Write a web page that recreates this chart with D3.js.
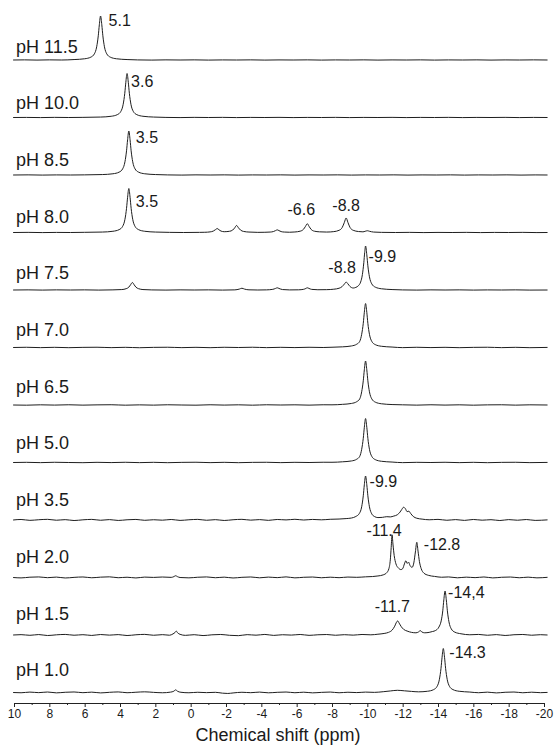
<!DOCTYPE html>
<html>
<head>
<meta charset="utf-8">
<script src="https://cdn.jsdelivr.net/npm/d3@7"></script>
<style>
  html, body { margin: 0; padding: 0; background: #fff; }
  svg { display: block; }
  text { font-family: "Liberation Sans", Arial, Helvetica, sans-serif; fill: #1a1a1a; }
</style>
</head>
<body>
<svg id="chart" width="554" height="747"></svg>
<script>
// ---------------- DATA ----------------
const phLabels = ["pH 11.5","pH 10.0","pH 8.5","pH 8.0","pH 7.5","pH 7.0","pH 6.5","pH 5.0","pH 3.5","pH 2.0","pH 1.5","pH 1.0"];

const xTickValues = [10,8,6,4,2,0,-2,-4,-6,-8,-10,-12,-14,-16,-18,-20];
const xMinorTickValues = [9,7,5,3,1,-1,-3,-5,-7,-9,-11,-13,-15,-17,-19];
const xTitle = "Chemical shift (ppm)";

// spectra: [ppm, relative intensity]
const spec_pH11_5 = [[10.05,0],[9.4,0.3],[8.7,-0.2],[8,0.3],[7.3,0],[6.6,1],[6.0,2.8],[5.65,6.5],[5.45,14],[5.32,30],[5.23,55],[5.17,80],[5.1,100],[5.03,80],[4.97,55],[4.88,30],[4.75,14],[4.55,6.5],[4.2,2.8],[3.6,1],[3,0.2],[2.2,-0.2],[1.4,0.3],[0.6,0],[-0.2,0.3],[-1,-0.2],[-1.8,0.2],[-2.6,0],[-3.4,0.3],[-4.2,-0.2],[-5,0.2],[-5.8,0],[-6.6,0.3],[-7.4,-0.2],[-8.2,0.2],[-9,0],[-9.8,0.3],[-10.6,-0.2],[-11.4,0.2],[-12.2,0],[-13,0.3],[-13.8,-0.2],[-14.6,0.2],[-15.4,0],[-16.2,0.3],[-17,-0.2],[-17.8,0.2],[-18.6,0],[-19.4,0.3],[-20.2,0]];
const spec_pH10_0 = [[10.05,0],[9.3,0.2],[8.5,-0.2],[7.7,0.3],[6.9,0],[6.1,0.3],[5.1,1],[4.5,2.8],[4.15,6.5],[3.95,14],[3.82,30],[3.73,55],[3.67,80],[3.6,100],[3.53,80],[3.47,55],[3.38,30],[3.25,14],[3.05,6.5],[2.7,2.8],[2.1,1],[1.4,0.2],[0.6,-0.2],[-0.2,0.3],[-1,0],[-1.8,0.3],[-2.6,-0.2],[-3.4,0.2],[-4.2,0],[-5,0.3],[-5.8,-0.2],[-6.6,0.2],[-7.4,0],[-8.2,0.3],[-9,-0.2],[-9.8,0.2],[-10.6,0],[-11.4,0.3],[-12.2,-0.2],[-13,0.2],[-13.8,0],[-14.6,0.3],[-15.4,-0.2],[-16.2,0.2],[-17,0],[-17.8,0.3],[-18.6,-0.2],[-19.4,0.2],[-20.2,0]];
const spec_pH8_5 = [[10.05,0],[9.2,0.3],[8.4,-0.2],[7.6,0.2],[6.8,0],[6,0.3],[5,1],[4.4,2.8],[4.05,6.5],[3.85,14],[3.72,30],[3.63,55],[3.57,80],[3.5,100],[3.43,80],[3.37,55],[3.28,30],[3.15,14],[2.95,6.5],[2.6,2.8],[2,1],[1.3,0.2],[0.5,-0.2],[-0.3,0.3],[-1.1,0],[-1.9,0.3],[-2.7,-0.2],[-3.5,0.2],[-4.3,0],[-5.1,0.3],[-5.9,-0.2],[-6.7,0.2],[-7.5,0],[-8.3,0.3],[-9.1,-0.2],[-9.9,0.2],[-10.7,0],[-11.5,0.3],[-12.3,-0.2],[-13.1,0.2],[-13.9,0],[-14.7,0.3],[-15.5,-0.2],[-16.3,0.2],[-17.1,0],[-17.9,0.3],[-18.7,-0.2],[-19.5,0.2],[-20.2,0]];
const spec_pH8_0 = [[10.05,0],[9.2,0.3],[8.4,-0.2],[7.6,0.2],[6.8,0],[6,0.4],[5,1],[4.4,2.8],[4.05,6.5],[3.85,14],[3.72,30],[3.63,55],[3.57,80],[3.5,100],[3.43,80],[3.37,55],[3.28,30],[3.15,14],[2.95,6.5],[2.6,2.8],[2,1],[1.2,0.3],[0.4,0],[-0.5,0.3],[-0.8,0.5],[-1.1,1.4],[-1.28,3.2],[-1.4,6.3],[-1.5,9],[-1.6,6.3],[-1.72,3.2],[-1.9,1.8],[-2.2,2.8],[-2.38,5.6],[-2.5,11],[-2.6,16],[-2.7,11],[-2.82,5.6],[-3.0,2.4],[-3.3,1],[-3.8,0.3],[-4.2,0.5],[-4.5,1],[-4.68,2.1],[-4.8,4.2],[-4.9,6],[-5.0,4.2],[-5.12,2.1],[-5.3,1],[-5.6,0.6],[-5.9,1.2],[-6.2,3],[-6.38,7],[-6.5,14],[-6.6,20],[-6.7,14],[-6.82,7],[-7.0,3],[-7.3,1.5],[-7.7,1],[-8.1,2],[-8.4,5],[-8.58,11.5],[-8.7,23],[-8.8,33],[-8.9,23],[-9.02,11.5],[-9.2,5],[-9.5,2.2],[-9.75,1.5],[-9.88,2.8],[-10.0,4],[-10.12,2.8],[-10.35,1],[-10.8,0.3],[-11.6,0],[-12.4,0.3],[-13.2,-0.2],[-14,0.2],[-14.8,0],[-15.6,0.3],[-16.4,-0.2],[-17.2,0.2],[-18,0],[-18.8,0.3],[-19.6,-0.2],[-20.2,0]];
const spec_pH7_5 = [[10.05,0],[9.2,0.3],[8.4,-0.2],[7.6,0.3],[6.8,0],[6,0.3],[5.2,-0.2],[4.4,0.3],[3.9,1],[3.65,3],[3.5,6.5],[3.4,12],[3.3,17],[3.2,12],[3.1,6.5],[2.95,3],[2.7,1],[2.2,0.2],[1.4,-0.2],[0.6,0.3],[-0.2,0],[-1,0.3],[-1.8,-0.2],[-2.5,0.3],[-2.75,2],[-2.9,4],[-3.05,2],[-3.3,0.4],[-3.8,0],[-4.3,0.3],[-4.65,1.5],[-4.8,3.5],[-4.9,5],[-5.0,3.5],[-5.2,1],[-5.6,0.2],[-6.1,0.4],[-6.4,1.6],[-6.52,3.5],[-6.6,5],[-6.7,3.5],[-6.85,1.4],[-7.2,0.6],[-7.7,0.8],[-8.1,1.8],[-8.4,4],[-8.58,8],[-8.7,13.5],[-8.8,18],[-8.9,14],[-9.02,8],[-9.2,4.5],[-9.35,6],[-9.5,10],[-9.62,18],[-9.72,35],[-9.8,62],[-9.85,85],[-9.9,100],[-9.97,80],[-10.03,55],[-10.12,30],[-10.25,14],[-10.45,6.5],[-10.8,2.8],[-11.4,1],[-12,0.2],[-12.8,-0.2],[-13.6,0.3],[-14.4,0],[-15.2,0.3],[-16,-0.2],[-16.8,0.2],[-17.6,0],[-18.4,0.3],[-19.2,-0.2],[-20.2,0]];
const spec_pH7_0 = [[10.05,0],[9.3,0.5],[8.5,-0.3],[7.7,0.4],[6.9,-0.4],[6.1,0.3],[5.3,0.6],[4.5,-0.3],[3.7,0.4],[2.9,-0.5],[2.1,0.3],[1.3,0.6],[0.5,-0.3],[-0.3,0.4],[-1.1,-0.4],[-1.9,0.5],[-2.7,0],[-3.5,0.6],[-4.3,-0.3],[-5.1,0.4],[-5.9,-0.2],[-6.7,0.5],[-7.5,0],[-8.0,0.6],[-8.6,1.5],[-9.1,3.5],[-9.4,7.5],[-9.57,14],[-9.68,30],[-9.77,55],[-9.83,80],[-9.9,100],[-9.97,80],[-10.03,55],[-10.12,30],[-10.25,14],[-10.45,6.5],[-10.8,2.8],[-11.4,1],[-12,-0.3],[-12.8,0.5],[-13.6,-0.2],[-14.4,0.4],[-15.2,-0.4],[-16,0.3],[-16.8,0.6],[-17.6,-0.3],[-18.4,0.4],[-19.2,-0.4],[-20.2,0.2]];
const spec_pH6_5 = [[10.05,0],[9.3,-0.4],[8.5,0.4],[7.7,-0.2],[6.9,0.5],[6.1,-0.3],[5.3,0.3],[4.5,0.6],[3.7,-0.4],[2.9,0.3],[2.1,-0.3],[1.3,0.5],[0.5,0],[-0.3,-0.4],[-1.1,0.5],[-1.9,-0.2],[-2.7,0.4],[-3.5,-0.4],[-4.3,0.5],[-5.1,0],[-5.9,0.4],[-6.7,-0.3],[-7.5,0.5],[-8.0,0.4],[-8.6,1.5],[-9.1,3.5],[-9.4,7.5],[-9.57,14],[-9.68,30],[-9.77,55],[-9.83,80],[-9.9,100],[-9.97,80],[-10.03,55],[-10.12,30],[-10.25,14],[-10.45,6.5],[-10.8,2.8],[-11.4,1],[-12,0.4],[-12.8,-0.3],[-13.6,0.5],[-14.4,-0.2],[-15.2,0.4],[-16,-0.4],[-16.8,0.3],[-17.6,0.5],[-18.4,-0.3],[-19.2,0.4],[-20.2,0]];
const spec_pH5_0 = [[10.05,0],[9.3,0.4],[8.5,-0.3],[7.7,0.5],[6.9,0],[6.1,-0.4],[5.3,0.4],[4.5,-0.2],[3.7,0.5],[2.9,-0.3],[2.1,0.4],[1.3,-0.4],[0.5,0.3],[-0.3,0.6],[-1.1,-0.3],[-1.9,0.4],[-2.7,-0.4],[-3.5,0.3],[-4.3,0.5],[-5.1,-0.3],[-5.9,0.4],[-6.7,0],[-7.5,0.6],[-8.0,0.5],[-8.6,1.6],[-9.1,3.5],[-9.4,7.5],[-9.57,14],[-9.68,30],[-9.77,55],[-9.83,80],[-9.9,100],[-9.97,80],[-10.03,55],[-10.12,30],[-10.25,14],[-10.45,6.5],[-10.8,2.8],[-11.4,1],[-12,-0.3],[-12.8,0.4],[-13.6,0],[-14.4,0.5],[-15.2,-0.3],[-16,0.4],[-16.8,-0.4],[-17.6,0.3],[-18.4,0.5],[-19.2,-0.3],[-20.2,0.2]];
const spec_pH3_5 = [[10.05,0],[9.6,1.2],[9.1,-0.8],[8.6,0.6],[8.1,1.5],[7.6,-0.5],[7.1,0.8],[6.6,-1.2],[6.1,0.4],[5.6,1.4],[5.1,-0.6],[4.6,0.9],[4.1,-1],[3.6,0.5],[3.1,1.3],[2.6,-0.7],[2.1,0.6],[1.6,-0.4],[1.1,1.2],[0.6,-0.9],[0.1,0.5],[-0.4,1.4],[-0.9,-0.6],[-1.4,0.8],[-1.9,-1.1],[-2.4,0.6],[-2.9,1.5],[-3.4,-0.3],[-3.9,0.9],[-4.4,-0.8],[-4.9,1.2],[-5.4,0.2],[-5.9,1.6],[-6.4,0],[-6.9,1.3],[-7.4,0.4],[-7.9,1.6],[-8.4,2.2],[-8.8,3.2],[-9.1,4.5],[-9.35,8],[-9.55,15],[-9.68,30],[-9.77,55],[-9.83,80],[-9.9,100],[-9.97,80],[-10.03,55],[-10.12,30],[-10.25,14],[-10.4,8],[-10.6,5.5],[-10.85,6],[-11.1,7.5],[-11.3,7],[-11.5,9],[-11.7,12],[-11.85,18],[-11.95,24],[-12.05,29],[-12.15,26],[-12.25,19],[-12.35,20],[-12.45,15],[-12.6,8],[-12.8,4],[-13.1,2],[-13.5,0.5],[-14,1.4],[-14.5,-0.6],[-15,0.9],[-15.5,-0.9],[-16,1.2],[-16.5,-0.4],[-17,0.7],[-17.5,-1.2],[-18,0.9],[-18.5,-0.5],[-19,1.1],[-19.5,-0.9],[-20.2,0.3]];
const spec_pH2_0 = [[10.05,0],[9.6,-0.9],[9.1,0.7],[8.6,1.3],[8.1,-0.4],[7.6,0.9],[7.1,-1.1],[6.6,0.3],[6.1,1.2],[5.6,-0.6],[5.1,0.8],[4.6,1.5],[4.1,-0.5],[3.6,0.6],[3.1,-1],[2.6,0.9],[2.1,0.2],[1.6,1.1],[1.1,0.3],[0.95,2],[0.85,4],[0.75,2],[0.6,0],[0.1,-0.8],[-0.4,0.6],[-0.9,1.3],[-1.4,-0.5],[-1.9,0.8],[-2.4,-1.1],[-2.9,0.4],[-3.4,1.2],[-3.9,-0.7],[-4.4,0.9],[-4.9,-0.3],[-5.4,1.4],[-5.9,-0.8],[-6.4,0.5],[-6.9,1.1],[-7.4,-0.6],[-7.9,0.7],[-8.4,-0.4],[-8.9,1],[-9.4,0.4],[-9.9,1.5],[-10.3,2.2],[-10.6,3.5],[-10.9,6],[-11.1,11],[-11.22,20],[-11.3,40],[-11.35,68],[-11.4,97],[-11.45,76],[-11.52,50],[-11.62,31],[-11.75,22],[-11.9,18],[-12.0,20],[-12.1,31],[-12.18,38],[-12.26,32],[-12.33,35],[-12.42,27],[-12.53,23],[-12.63,33],[-12.72,58],[-12.8,80],[-12.87,60],[-12.95,36],[-13.05,20],[-13.2,10],[-13.45,5],[-13.8,2.5],[-14.2,0.6],[-14.6,1.3],[-15.1,-0.7],[-15.6,0.8],[-16.1,-0.3],[-16.6,1.2],[-17.1,-0.9],[-17.6,0.5],[-18.1,1.1],[-18.6,-0.6],[-19.1,0.8],[-19.6,-0.8],[-20.2,0.4]];
const spec_pH1_5 = [[10.05,0],[9.6,0.8],[9.1,-0.7],[8.6,1],[8.1,-1.2],[7.6,0.4],[7.1,1.3],[6.6,-0.5],[6.1,0.7],[5.6,-1],[5.1,1.1],[4.6,-0.3],[4.1,0.9],[3.6,-1.2],[3.1,0.5],[2.6,1.4],[2.1,-0.6],[1.6,0.8],[1.2,-0.5],[1.0,2.5],[0.88,6],[0.82,9],[0.74,5],[0.6,1.5],[0.3,-0.8],[-0.2,0.7],[-0.7,-1.3],[-1.2,0.4],[-1.7,1.2],[-2.2,-0.7],[-2.7,-1.5],[-3.2,0.8],[-3.7,-0.4],[-4.2,1.3],[-4.7,-0.9],[-5.2,0.6],[-5.7,-0.2],[-6.2,1.2],[-6.7,-0.8],[-7.2,0.5],[-7.7,1.1],[-8.2,-0.6],[-8.7,0.7],[-9.2,-0.3],[-9.7,1.2],[-10.2,0.4],[-10.6,1.8],[-10.95,3.5],[-11.2,6],[-11.4,11],[-11.55,20],[-11.65,29],[-11.72,32],[-11.8,27],[-11.92,19],[-12.05,13],[-12.25,9],[-12.5,6],[-12.75,5],[-12.9,7],[-13.0,10],[-13.08,7],[-13.25,5],[-13.5,6],[-13.7,8],[-13.85,10],[-14.05,18],[-14.18,32],[-14.27,55],[-14.33,80],[-14.4,100],[-14.47,80],[-14.53,55],[-14.62,30],[-14.75,14],[-14.95,6.5],[-15.3,2.8],[-15.8,0.5],[-16.3,1.3],[-16.8,-0.6],[-17.3,0.9],[-17.8,-1.1],[-18.3,0.6],[-18.8,1.2],[-19.3,-0.5],[-19.8,0.7],[-20.2,0]];
const spec_pH1_0 = [[10.05,0],[9.6,-0.6],[9.1,0.9],[8.6,-0.3],[8.1,1.1],[7.6,-0.8],[7.1,0.5],[6.6,1.2],[6.1,-0.4],[5.6,0.8],[5.1,-0.9],[4.6,0.4],[4.1,1.3],[3.6,-0.5],[3.1,0.6],[2.6,1.5],[2.1,0.3],[1.6,-0.6],[1.15,0.8],[0.95,3],[0.85,6],[0.75,3],[0.55,0.5],[0.1,-0.6],[-0.4,0.5],[-0.9,-0.3],[-1.4,0.4],[-1.8,-1.5],[-2.1,-2.2],[-2.4,-1],[-2.9,0.5],[-3.4,-0.4],[-3.9,0.9],[-4.4,-0.7],[-4.9,0.4],[-5.4,1.1],[-5.9,-0.5],[-6.4,0.7],[-6.9,-0.8],[-7.4,0.3],[-7.9,1],[-8.4,-0.6],[-8.9,0.6],[-9.4,-0.2],[-9.9,0.9],[-10.4,0.3],[-10.9,1.8],[-11.3,3.5],[-11.7,5],[-12.1,3.8],[-12.5,2.5],[-12.9,1.5],[-13.4,2.8],[-13.75,6.5],[-13.95,14],[-14.08,30],[-14.17,55],[-14.23,80],[-14.3,100],[-14.37,80],[-14.43,55],[-14.52,30],[-14.65,14],[-14.85,6.5],[-15.2,2.8],[-15.8,1],[-16.3,-0.5],[-16.8,0.8],[-17.3,-0.9],[-17.8,0.5],[-18.3,1.1],[-18.8,-0.6],[-19.3,0.7],[-19.8,-0.4],[-20.2,0.2]];

const spectra = [spec_pH11_5, spec_pH10_0, spec_pH8_5, spec_pH8_0, spec_pH7_5, spec_pH7_0, spec_pH6_5, spec_pH5_0, spec_pH3_5, spec_pH2_0, spec_pH1_5, spec_pH1_0];

// peak annotations: [spectrum index, ppm, text]
const peakLabels = [
  [0, 5.1, "5.1"],
  [1, 3.6, "3.6"],
  [2, 3.5, "3.5"],
  [3, 3.5, "3.5"],
  [3, -6.6, "-6.6"],
  [3, -8.8, "-8.8"],
  [4, -8.8, "-8.8"],
  [4, -9.9, "-9.9"],
  [8, -9.9, "-9.9"],
  [9, -11.4, "-11.4"],
  [9, -12.8, "-12.8"],
  [10, -11.7, "-11.7"],
  [10, -14.4, "-14,4"],
  [11, -14.3, "-14.3"]
];

// ---------------- LAYOUT ----------------
const firstBase = 60, baseStep = 57.5;
const peakPx = 44;
// per-annotation placement: [anchor, dx, dy]  (dy relative to spectrum baseline)
const labelPlace = [
  ["start", 8, -34],
  ["start", 4, -31],
  ["start", 7, -32],
  ["start", 7, -25.5],
  ["middle", -6, -17.5],
  ["middle", 0, -22],
  ["middle", -4, -17.5],
  ["start", 3, -28.5],
  ["start", 4, -33],
  ["middle", -8, -41.5],
  ["start", 7, -27.5],
  ["middle", -5, -23],
  ["start", 3, -37],
  ["start", 6, -34.5]
];
const phLabelY = i => 52.5 + i * 56.7;

const svg = d3.select("#chart");
const x = d3.scaleLinear().domain([10, -20]).range([14, 544]);
const yI = d3.scaleLinear().domain([0, 100]).range([0, peakPx]);
const base = i => firstBase + i * baseStep;

const line = d3.line().curve(d3.curveMonotoneX);

spectra.forEach((spec, i) => {
  svg.append("path")
    .attr("d", line.x(d => x(d[0])).y(d => base(i) - yI(d[1]))(spec))
    .attr("fill", "none")
    .attr("stroke", "#1e1e1e")
    .attr("stroke-width", 1)
    .attr("stroke-linejoin", "round");
});

svg.append("g").selectAll("text.ph").data(phLabels).join("text")
  .attr("class", "ph")
  .attr("x", 16)
  .attr("y", (d, i) => phLabelY(i))
  .attr("font-size", 18)
  .text(d => d);

svg.append("g").selectAll("text.pk").data(peakLabels).join("text")
  .attr("class", "pk")
  .attr("x", (d, i) => x(d[1]) + labelPlace[i][1])
  .attr("y", (d, i) => base(d[0]) + labelPlace[i][2])
  .attr("text-anchor", (d, i) => labelPlace[i][0])
  .attr("font-size", 16)
  .text(d => d[2]);

// axis
const axisY = 703;
const gAxis = svg.append("g").attr("transform", `translate(0,${axisY})`)
  .call(d3.axisBottom(x).tickValues(xTickValues).tickFormat(d => String(d)).tickSize(4).tickSizeOuter(0).tickPadding(2));
gAxis.select(".domain").attr("stroke", "#222");
gAxis.selectAll(".tick line").attr("stroke", "#222");
gAxis.selectAll(".tick text").attr("font-size", 12).attr("font-family", "'Liberation Sans', Arial, sans-serif").attr("fill", "#1a1a1a");

const gMinor = svg.append("g").attr("transform", `translate(0,${axisY})`)
  .call(d3.axisBottom(x).tickValues(xMinorTickValues).tickFormat("").tickSize(2).tickSizeOuter(0));
gMinor.select(".domain").remove();
gMinor.selectAll(".tick line").attr("stroke", "#222");

svg.append("text")
  .attr("x", x(-5) - 1)
  .attr("y", 741)
  .attr("text-anchor", "middle")
  .attr("font-size", 18)
  .text(xTitle);
</script>
</body>
</html>
